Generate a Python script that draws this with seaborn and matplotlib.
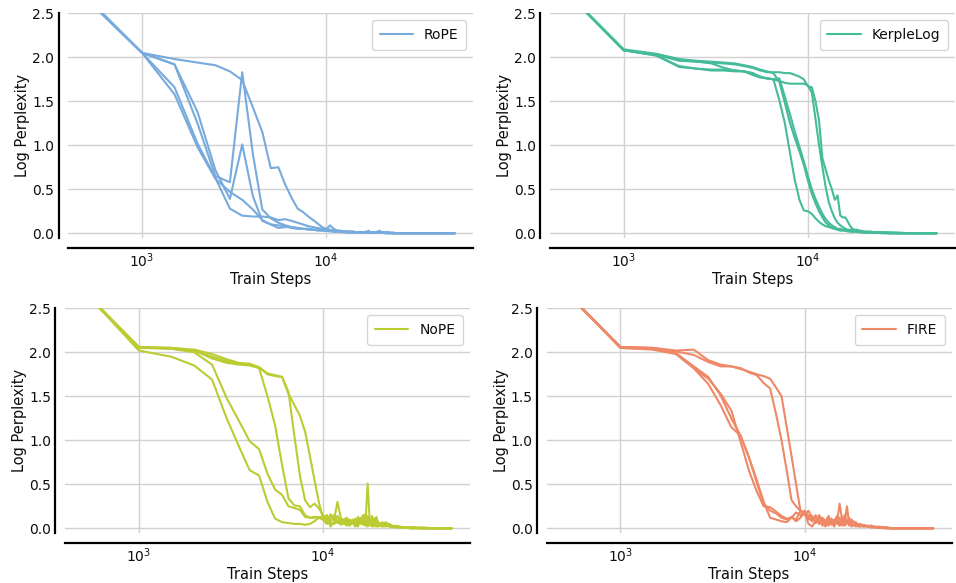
import pandas as pd
import matplotlib
matplotlib.use("Agg")
import matplotlib.pyplot as plt
import seaborn as sns

# evaluation steps shared by all runs (every 500 steps early, sparser in the flat tail)
STEPS = list(range(500, 20001, 500)) + [21000, 22000, 23000, 24000, 25000,
                                        27500, 30000, 35000, 40000, 45000, 50000]

METHODS = ["RoPE", "KerpleLog", "NoPE", "FIRE"]
COLORS = ["#77AADD", "#44BB99", "#BBCC33", "#EE8866"]

ROPE_RUNS = [
    [2.67, 2.05, 1.98, 1.94, 1.91, 1.84, 1.74, 1.43, 1.15, 0.74,
     0.75, 0.55, 0.40, 0.28, 0.24, 0.19, 0.15, 0.11, 0.07, 0.05,
     0.04, 0.03, 0.03, 0.02, 0.02, 0.02, 0.02, 0.01, 0.01, 0.01,
     0.01, 0.01, 0.01, 0.01, 0.01, 0.01, 0.01, 0.01, 0.01, 0.01,
     0.01, 0.01, 0.00, 0.00, 0.00, 0.00, 0.00, 0.00, 0.00, 0.00, 0.00],
    [2.68, 2.05, 1.92, 1.38, 0.72, 0.39, 1.01, 0.42, 0.14, 0.10,
     0.09, 0.08, 0.06, 0.05, 0.05, 0.04, 0.04, 0.03, 0.03, 0.03,
     0.02, 0.02, 0.02, 0.02, 0.01, 0.01, 0.01, 0.01, 0.01, 0.01,
     0.01, 0.01, 0.01, 0.03, 0.01, 0.01, 0.01, 0.01, 0.01, 0.01,
     0.00, 0.00, 0.00, 0.00, 0.00, 0.00, 0.00, 0.00, 0.00, 0.00, 0.00],
    [2.68, 2.05, 1.92, 1.25, 0.65, 0.58, 1.83, 0.90, 0.27, 0.17,
     0.12, 0.09, 0.07, 0.06, 0.05, 0.05, 0.04, 0.04, 0.04, 0.03,
     0.03, 0.02, 0.02, 0.02, 0.02, 0.01, 0.01, 0.02, 0.01, 0.01,
     0.01, 0.01, 0.02, 0.01, 0.01, 0.01, 0.01, 0.02, 0.01, 0.01,
     0.01, 0.00, 0.01, 0.00, 0.00, 0.00, 0.00, 0.00, 0.00, 0.00, 0.00],
    [2.66, 2.05, 1.66, 1.02, 0.63, 0.28, 0.20, 0.19, 0.19, 0.18,
     0.15, 0.16, 0.14, 0.12, 0.10, 0.08, 0.07, 0.06, 0.05, 0.04,
     0.09, 0.05, 0.03, 0.03, 0.02, 0.02, 0.02, 0.02, 0.01, 0.01,
     0.01, 0.01, 0.01, 0.01, 0.01, 0.01, 0.01, 0.01, 0.03, 0.01,
     0.01, 0.01, 0.00, 0.00, 0.00, 0.00, 0.00, 0.00, 0.00, 0.00, 0.00],
    [2.66, 2.05, 1.58, 0.98, 0.62, 0.47, 0.38, 0.27, 0.15, 0.10,
     0.06, 0.07, 0.07, 0.06, 0.05, 0.05, 0.04, 0.04, 0.03, 0.03,
     0.03, 0.02, 0.02, 0.02, 0.02, 0.01, 0.01, 0.01, 0.01, 0.01,
     0.01, 0.01, 0.01, 0.01, 0.01, 0.01, 0.01, 0.01, 0.01, 0.01,
     0.00, 0.00, 0.00, 0.00, 0.00, 0.00, 0.00, 0.00, 0.00, 0.00, 0.00],
]

KERPLE_RUNS = [
    [2.72, 2.08, 2.02, 1.90, 1.87, 1.86, 1.86, 1.85, 1.84, 1.80,
     1.77, 1.76, 1.75, 1.51, 1.25, 0.91, 0.60, 0.38, 0.26, 0.25,
     0.22, 0.17, 0.13, 0.10, 0.08, 0.07, 0.06, 0.05, 0.05, 0.04,
     0.04, 0.03, 0.03, 0.03, 0.02, 0.02, 0.02, 0.02, 0.02, 0.01,
     0.01, 0.01, 0.01, 0.01, 0.01, 0.01, 0.00, 0.00, 0.00, 0.00, 0.00],
    [2.72, 2.09, 2.04, 1.98, 1.96, 1.95, 1.94, 1.93, 1.91, 1.89,
     1.86, 1.84, 1.82, 1.72, 1.48, 1.25, 1.08, 0.93, 0.78, 0.60,
     0.45, 0.34, 0.25, 0.18, 0.12, 0.09, 0.06, 0.05, 0.04, 0.03,
     0.03, 0.03, 0.02, 0.02, 0.02, 0.02, 0.02, 0.01, 0.01, 0.01,
     0.01, 0.01, 0.01, 0.01, 0.00, 0.00, 0.00, 0.00, 0.00, 0.00, 0.00],
    [2.71, 2.08, 2.03, 1.97, 1.95, 1.93, 1.88, 1.85, 1.84, 1.82,
     1.78, 1.76, 1.75, 1.76, 1.55, 1.35, 1.15, 0.98, 0.82, 0.65,
     0.50, 0.39, 0.30, 0.22, 0.16, 0.12, 0.09, 0.07, 0.05, 0.05,
     0.04, 0.03, 0.03, 0.02, 0.02, 0.02, 0.02, 0.02, 0.01, 0.01,
     0.01, 0.01, 0.01, 0.01, 0.01, 0.00, 0.00, 0.00, 0.00, 0.00, 0.00],
    [2.72, 2.08, 2.03, 1.96, 1.95, 1.94, 1.93, 1.92, 1.90, 1.88,
     1.85, 1.83, 1.83, 1.83, 1.82, 1.82, 1.80, 1.78, 1.75, 1.67,
     1.66, 1.50, 1.28, 0.85, 0.72, 0.60, 0.50, 0.38, 0.43, 0.20,
     0.18, 0.18, 0.13, 0.08, 0.05, 0.04, 0.04, 0.03, 0.03, 0.02,
     0.02, 0.02, 0.01, 0.01, 0.01, 0.01, 0.01, 0.00, 0.00, 0.00, 0.00],
    [2.72, 2.08, 2.02, 1.89, 1.87, 1.85, 1.85, 1.84, 1.84, 1.82,
     1.78, 1.76, 1.75, 1.73, 1.71, 1.70, 1.70, 1.70, 1.70, 1.68,
     1.60, 1.30, 1.00, 0.75, 0.52, 0.35, 0.25, 0.17, 0.12, 0.09,
     0.07, 0.05, 0.04, 0.04, 0.03, 0.03, 0.03, 0.02, 0.02, 0.02,
     0.01, 0.01, 0.01, 0.01, 0.01, 0.00, 0.00, 0.00, 0.00, 0.00, 0.00],
]

NOPE_RUNS = [
    [2.70, 2.02, 1.95, 1.85, 1.69, 1.25, 0.93, 0.66, 0.60, 0.30,
     0.11, 0.07, 0.06, 0.05, 0.05, 0.04, 0.05, 0.08, 0.12, 0.14,
     0.10, 0.06, 0.05, 0.08, 0.04, 0.06, 0.03, 0.05, 0.10, 0.03,
     0.06, 0.12, 0.04, 0.08, 0.02, 0.10, 0.03, 0.06, 0.02, 0.04,
     0.03, 0.02, 0.04, 0.02, 0.02, 0.01, 0.01, 0.01, 0.00, 0.00, 0.00],
    [2.68, 2.06, 2.04, 2.00, 1.86, 1.48, 1.22, 0.99, 0.90, 0.62,
     0.44, 0.38, 0.25, 0.23, 0.21, 0.13, 0.12, 0.13, 0.12, 0.10,
     0.05, 0.12, 0.15, 0.08, 0.10, 0.05, 0.09, 0.03, 0.07, 0.11,
     0.04, 0.08, 0.15, 0.06, 0.12, 0.03, 0.14, 0.05, 0.09, 0.02,
     0.07, 0.03, 0.05, 0.02, 0.03, 0.01, 0.01, 0.00, 0.00, 0.00, 0.00],
    [2.70, 2.06, 2.05, 2.02, 1.93, 1.88, 1.86, 1.85, 1.82, 1.50,
     1.17, 0.72, 0.34, 0.26, 0.25, 0.15, 0.12, 0.12, 0.13, 0.10,
     0.15, 0.08, 0.12, 0.06, 0.11, 0.09, 0.04, 0.10, 0.06, 0.02,
     0.13, 0.05, 0.08, 0.16, 0.04, 0.07, 0.12, 0.03, 0.08, 0.05,
     0.02, 0.06, 0.02, 0.03, 0.01, 0.01, 0.01, 0.00, 0.00, 0.00, 0.00],
    [2.70, 2.06, 2.05, 2.03, 1.98, 1.92, 1.88, 1.87, 1.83, 1.76,
     1.74, 1.72, 1.53, 1.40, 1.28, 1.10, 0.82, 0.55, 0.30, 0.12,
     0.06, 0.16, 0.10, 0.30, 0.12, 0.07, 0.11, 0.04, 0.09, 0.05,
     0.02, 0.10, 0.06, 0.03, 0.14, 0.08, 0.02, 0.11, 0.04, 0.07,
     0.02, 0.04, 0.02, 0.01, 0.02, 0.01, 0.00, 0.00, 0.00, 0.00, 0.00],
    [2.69, 2.05, 2.04, 2.02, 1.95, 1.90, 1.87, 1.86, 1.83, 1.75,
     1.73, 1.72, 1.55, 1.05, 0.60, 0.32, 0.24, 0.28, 0.23, 0.15,
     0.12, 0.02, 0.08, 0.14, 0.06, 0.10, 0.12, 0.05, 0.08, 0.03,
     0.11, 0.06, 0.09, 0.04, 0.51, 0.05, 0.10, 0.02, 0.13, 0.06,
     0.04, 0.07, 0.03, 0.02, 0.01, 0.01, 0.00, 0.00, 0.00, 0.00, 0.00],
]

FIRE_RUNS = [
    [2.70, 2.06, 2.04, 1.99, 1.84, 1.72, 1.51, 1.25, 1.05, 0.80,
     0.55, 0.30, 0.12, 0.10, 0.08, 0.07, 0.12, 0.18, 0.15, 0.20,
     0.12, 0.08, 0.15, 0.05, 0.10, 0.04, 0.12, 0.06, 0.09, 0.06,
     0.28, 0.10, 0.04, 0.08, 0.03, 0.06, 0.08, 0.03, 0.05, 0.02,
     0.04, 0.02, 0.03, 0.01, 0.02, 0.01, 0.00, 0.00, 0.00, 0.00, 0.00],
    [2.69, 2.05, 2.04, 1.99, 1.82, 1.70, 1.53, 1.34, 0.98, 0.65,
     0.42, 0.25, 0.24, 0.19, 0.14, 0.11, 0.12, 0.10, 0.20, 0.17,
     0.10, 0.14, 0.06, 0.11, 0.03, 0.08, 0.14, 0.04, 0.10, 0.06,
     0.03, 0.08, 0.06, 0.25, 0.04, 0.09, 0.03, 0.06, 0.02, 0.05,
     0.03, 0.02, 0.03, 0.01, 0.01, 0.01, 0.00, 0.00, 0.00, 0.00, 0.00],
    [2.70, 2.05, 2.03, 1.98, 1.82, 1.64, 1.40, 1.15, 1.05, 0.80,
     0.52, 0.28, 0.20, 0.17, 0.12, 0.10, 0.13, 0.08, 0.12, 0.18,
     0.05, 0.02, 0.09, 0.12, 0.06, 0.02, 0.07, 0.11, 0.04, 0.08,
     0.12, 0.03, 0.15, 0.07, 0.10, 0.02, 0.05, 0.07, 0.03, 0.04,
     0.02, 0.03, 0.01, 0.02, 0.01, 0.01, 0.00, 0.00, 0.00, 0.00, 0.00],
    [2.70, 2.06, 2.05, 2.02, 2.03, 1.91, 1.86, 1.84, 1.82, 1.77,
     1.74, 1.65, 1.59, 1.30, 1.00, 0.66, 0.32, 0.25, 0.20, 0.18,
     0.15, 0.10, 0.13, 0.05, 0.12, 0.08, 0.03, 0.10, 0.06, 0.14,
     0.04, 0.08, 0.03, 0.06, 0.12, 0.04, 0.07, 0.02, 0.05, 0.03,
     0.02, 0.03, 0.01, 0.02, 0.01, 0.00, 0.00, 0.00, 0.00, 0.00, 0.00],
    [2.69, 2.06, 2.05, 2.01, 1.97, 1.89, 1.84, 1.84, 1.81, 1.78,
     1.75, 1.73, 1.70, 1.60, 1.50, 1.15, 0.82, 0.50, 0.20, 0.15,
     0.20, 0.12, 0.07, 0.15, 0.09, 0.05, 0.11, 0.07, 0.02, 0.09,
     0.06, 0.13, 0.04, 0.08, 0.05, 0.10, 0.03, 0.06, 0.04, 0.02,
     0.03, 0.02, 0.02, 0.01, 0.01, 0.00, 0.00, 0.00, 0.00, 0.00, 0.00],
]

ALL_RUNS = [ROPE_RUNS, KERPLE_RUNS, NOPE_RUNS, FIRE_RUNS]

# long-form table: one row per (method, seed, step)
rows = []
for method, runs in zip(METHODS, ALL_RUNS):
    for seed, vals in enumerate(runs):
        assert len(vals) == len(STEPS), (method, seed, len(vals))
        for step, v in zip(STEPS, vals):
            rows.append({"method": method, "seed": seed, "step": step, "log_ppl": v})
df = pd.DataFrame(rows)

sns.set_theme(style="whitegrid", rc={
    "xtick.labelsize": 10,
    "ytick.labelsize": 10,
    "axes.labelsize": 10.5,
    "legend.fontsize": 10,
    "xtick.major.size": 0,
    "ytick.major.size": 0,
    "xtick.minor.size": 0,
    "ytick.minor.size": 0,
    "xtick.major.pad": 2.5,
    "ytick.major.pad": 3,
    "axes.labelpad": 1.5,
    "grid.color": "0.82",
    "text.color": "0.05",
    "axes.labelcolor": "0.05",
    "xtick.color": "0.05",
    "ytick.color": "0.05",
})

fig = plt.figure(figsize=(9.56, 5.83), dpi=100)
# axes boxes in figure fraction (left, bottom, width, height)
boxes = [
    [0.0714, 0.5913, 0.4236, 0.3859],
    [0.5753, 0.5913, 0.4236, 0.3859],
    [0.0680, 0.0852, 0.4236, 0.3860],
    [0.5718, 0.0852, 0.4236, 0.3860],
]

for method, color, box in zip(METHODS, COLORS, boxes):
    ax = fig.add_axes(box)
    sub = df[df["method"] == method]
    sns.lineplot(data=sub, x="step", y="log_ppl", hue="method", units="seed",
                 estimator=None, palette={method: color}, linewidth=1.5, ax=ax)
    ax.set_xscale("log")
    ax.set_ylim(-0.057, 2.5)
    ax.set_xlabel("Train Steps")
    ax.set_ylabel("Log Perplexity")
    sns.despine(ax=ax, offset=7)
    for side in ["left", "bottom"]:
        ax.spines[side].set_color("black")
        ax.spines[side].set_linewidth(1.6)
    sns.move_legend(ax, "upper right", title=None, frameon=True,
                    handlelength=2.4, borderpad=0.55)

fig.savefig("out.png", dpi=100)
